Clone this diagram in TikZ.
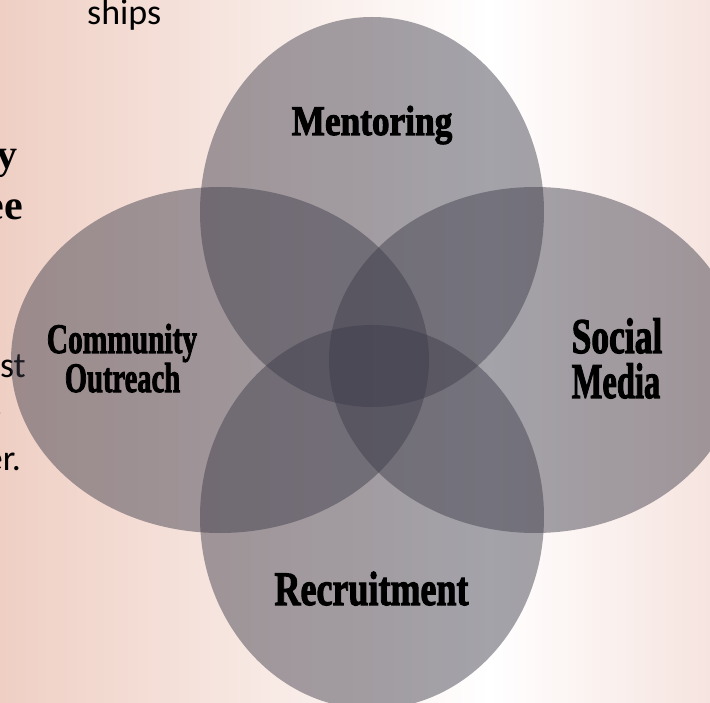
\documentclass[tikz,border=0pt]{standalone}
\usepackage{fontspec}
\setmainfont{Liberation Serif}
\newfontfamily\lblfont{Liberation Serif}[UprightFont={* Bold},FakeBold=2.5]
\newfontfamily\calfont{Carlito}
\definecolor{bgL}{HTML}{EFCFC4}
\definecolor{bgR}{HTML}{F6E4DF}
\definecolor{venn}{HTML}{3E3C4A}
\pgfdeclarehorizontalshading{bgshade}{100bp}{color(0bp)=(bgL); color(25bp)=(bgL); color(59.5bp)=(white); color(75bp)=(bgR); color(100bp)=(bgR)}
\begin{document}
\begin{tikzpicture}[x=1pt,y=-1pt,
  set/.style={fill=venn,fill opacity=0.47,draw=none},
  lbl/.style={inner sep=0pt,anchor=base,text=black},
  bgtext/.style={inner sep=0pt,text=black}]
\useasboundingbox (0,0) rectangle (710,703);
\clip (0,0) rectangle (710,703);
\shade[shading=bgshade] (0,0) rectangle (710,703);
% partly hidden text of the slide behind
\node[bgtext,anchor=base west,font=\calfont\fontsize{36}{36}\selectfont] (ships) at (87,25) {ships};
\node[bgtext,anchor=base east,font=\bfseries\fontsize{42}{42}\selectfont] (ty) at (18,169) {y};
\node[bgtext,anchor=base east,font=\bfseries\fontsize{42}{42}\selectfont] (tee) at (23,220) {ee};
\node[bgtext,anchor=base east,font=\calfont\fontsize{36}{36}\selectfont] (tst) at (26,378) {st};
\node[bgtext,anchor=base east,font=\calfont\fontsize{36}{36}\selectfont] (tdot) at (3,416) {.};
\node[bgtext,anchor=base east,font=\calfont\fontsize{36}{36}\selectfont] (ter) at (21,470) {er.};
% sets
\fill[set] (372,212) ellipse [x radius=172, y radius=195];
\fill[set] (220,360) ellipse [x radius=209, y radius=173];
\fill[set] (535,360) ellipse [x radius=206, y radius=173];
\fill[set] (372,517) ellipse [x radius=172, y radius=192];
% labels
\node[lbl,font=\lblfont\fontsize{42}{42}\selectfont] (ment) at (372,135) {\scalebox{0.84}[1]{Mentoring}};
\node[lbl,font=\lblfont\fontsize{42}{42}\selectfont] (comm1) at (122,353) {\scalebox{0.70}[1]{Community}};
\node[lbl,font=\lblfont\fontsize{42}{42}\selectfont] (comm2) at (122.5,392) {\scalebox{0.68}[1]{Outreach}};
\node[lbl,font=\lblfont\fontsize{50}{50}\selectfont] (soc1) at (617,353) {\scalebox{0.71}[1]{Social}};
\node[lbl,font=\lblfont\fontsize{50}{50}\selectfont] (soc2) at (616,398) {\scalebox{0.65}[1]{Media}};
\node[lbl,font=\lblfont\fontsize{48}{48}\selectfont] (recr) at (371.5,605) {\scalebox{0.75}[1]{Recruitment}};
\end{tikzpicture}
\end{document}
